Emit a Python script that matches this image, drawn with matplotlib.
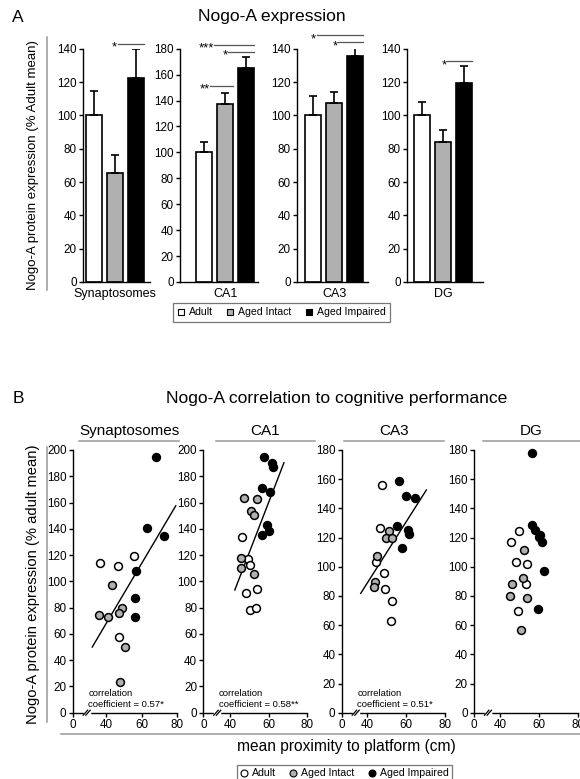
import numpy as np
import matplotlib.pyplot as plt
from matplotlib.lines import Line2D

plt.rcParams['font.family'] = ['Liberation Sans', 'DejaVu Sans']

W, H = 580, 779

regions = ['Synaptosomes', 'CA1', 'CA3', 'DG']
groups = ['Adult', 'Aged Intact', 'Aged Impaired']
group_colors = ['white', '#b0b0b0', 'black']

# --- panel A: bar means and upward SEM (% adult mean)
adult_mean = [100, 100, 100, 100]
intact_mean = [65.3, 137.0, 107.4, 83.8]
impaired_mean = [122.3, 165.0, 135.8, 119.6]
adult_sem = [14.5, 8.2, 11.8, 8.0]
intact_sem = [10.7, 9.0, 6.6, 7.2]
impaired_sem = [17.7, 8.5, 5.6, 10.2]
bar_ymax = [140, 180, 140, 140]

# significance lines: (y, start, end, label), x in bar index units
sig_lines = [
    [(143, 1.12, 2.39, '*')],
    [(183, 0.48, 2.39, '***'), (177.5, 1.14, 2.39, '*'), (151, 0.29, 1.39, '**')],
    [(148, 0.17, 2.39, '*'), (144, 1.2, 2.39, '*')],
    [(132.6, 1.19, 2.39, '*')],
]

# --- panel B: mean proximity (cm) vs Nogo-A expression
syn_adult_x = [36.3, 46.3, 55.4, 46.8]
syn_adult_y = [113.7, 111.9, 119.1, 57.4]
syn_intact_x = [43.2, 35.6, 41.0, 48.9, 47.2, 50.2, 47.6]
syn_intact_y = [97.0, 74.4, 73.1, 79.5, 76.1, 50.2, 23.6]
syn_impaired_x = [67.8, 62.6, 72.5, 56.6, 55.8, 56.2]
syn_impaired_y = [194.9, 140.9, 134.3, 108.1, 87.1, 72.6]

ca1_adult_x = [46.2, 49.4, 50.3, 48.2, 54.0, 50.5, 53.6]
ca1_adult_y = [134.0, 117.0, 112.2, 90.9, 93.9, 78.0, 79.7]
ca1_intact_x = [47.0, 53.8, 51.0, 52.2, 45.8, 45.5, 52.2]
ca1_intact_y = [163.2, 162.7, 153.8, 150.7, 117.5, 109.9, 105.6]
ca1_impaired_x = [57.8, 61.9, 62.1, 56.4, 60.6, 59.4, 60.2, 56.6]
ca1_impaired_y = [194.9, 189.9, 186.8, 171.3, 168.3, 142.9, 138.6, 135.3]

ca3_adult_x = [47.7, 46.5, 44.3, 48.6, 49.1, 52.6, 52.2]
ca3_adult_y = [155.8, 126.4, 103.3, 95.9, 84.5, 76.5, 62.8]
ca3_intact_x = [51.2, 49.5, 52.6, 45.0, 44.1, 43.4]
ca3_intact_y = [124.5, 119.7, 119.7, 107.6, 89.4, 86.3]
ca3_impaired_x = [56.5, 59.8, 64.7, 55.3, 61.1, 61.3, 58.0]
ca3_impaired_y = [159.0, 148.5, 147.3, 127.9, 125.2, 122.4, 112.6]

dg_adult_x = [49.9, 45.7, 48.1, 53.9, 53.4, 49.1]
dg_adult_y = [124.5, 117.0, 103.3, 102.1, 88.4, 69.7]
dg_intact_x = [52.4, 51.7, 46.3, 45.2, 53.9, 50.7]
dg_intact_y = [111.7, 92.5, 88.4, 79.8, 78.6, 56.5]
dg_impaired_x = [56.5, 56.5, 57.9, 60.6, 59.9, 61.3, 62.7, 59.4]
dg_impaired_y = [178.2, 128.6, 125.2, 121.8, 120.2, 117.0, 97.3, 70.8]

scatter_data = [
    [(syn_adult_x, syn_adult_y), (syn_intact_x, syn_intact_y), (syn_impaired_x, syn_impaired_y)],
    [(ca1_adult_x, ca1_adult_y), (ca1_intact_x, ca1_intact_y), (ca1_impaired_x, ca1_impaired_y)],
    [(ca3_adult_x, ca3_adult_y), (ca3_intact_x, ca3_intact_y), (ca3_impaired_x, ca3_impaired_y)],
    [(dg_adult_x, dg_adult_y), (dg_intact_x, dg_intact_y), (dg_impaired_x, dg_impaired_y)],
]
fit_x = [[32, 79], [42.4, 68], [36.6, 70.4], None]
fit_y = [[50, 157.5], [93.4, 190.3], [81.8, 152.6], None]
corr_labels = ['0.57*', '0.58**', '0.51*', None]
scatter_ymax = [200, 200, 180, 180]
break_start = [21, 26, 26.8, 26.6]   # where the "0" label sits on the broken axis


fig = plt.figure(figsize=(W / 100, H / 100), dpi=100)


def px_axes(l, t, r, b):
    return fig.add_axes([l / W, 1 - b / H, (r - l) / W, (b - t) / H])


def fig_line(x0, y0, x1, y1, **kw):
    fig.add_artist(Line2D([x0 / W, x1 / W], [1 - y0 / H, 1 - y1 / H], **kw))


def style(ax):
    for s in ['top', 'right']:
        ax.spines[s].set_visible(False)
    for s in ['left', 'bottom']:
        ax.spines[s].set_linewidth(1.0)
    ax.tick_params(labelsize=8.4, length=3, width=1, pad=1.5)


# ---------------- A ----------------
fig.text(18 / W, 1 - 17 / H, 'A', fontsize=12.5, ha='center', va='center')
fig.text(272 / W, 1 - 17 / H, 'Nogo-A expression', fontsize=12.6, ha='center', va='center')
fig.text(33 / W, 1 - 165 / H, 'Nogo-A protein expression (% Adult mean)', rotation=90,
         fontsize=9.5, ha='center', va='center')
fig_line(47, 37, 47, 290, color='#999999', lw=1.1)

bar_boxes = [(83, 150, 3), (180, 258, 16), (297, 368, 8), (407, 483, 7)]
pitch = 21.0
bw = 0.78
for i, (l, r, gap) in enumerate(bar_boxes):
    ax = px_axes(l, 48.7, r, 282)
    style(ax)
    means = [adult_mean[i], intact_mean[i], impaired_mean[i]]
    sems = [adult_sem[i], intact_sem[i], impaired_sem[i]]
    xs = np.arange(3)
    ax.bar(xs, means, bw, color=group_colors, edgecolor='black', linewidth=1.2,
           yerr=[[0, 0, 0], sems], capsize=3,
           error_kw=dict(elinewidth=1.2, capthick=1.2, ecolor='black'), zorder=2)
    x0 = -bw / 2 - gap / pitch
    ax.set_xlim(x0, x0 + (r - l) / pitch)
    ax.set_ylim(0, bar_ymax[i])
    ax.set_yticks(np.arange(0, bar_ymax[i] + 1, 20))
    ax.set_xticks([1])
    ax.set_xticklabels([regions[i]], fontsize=9.0)
    ax.tick_params(axis='x', length=0, pad=4)
    for y, a, b, lab in sig_lines[i]:
        ax.plot([a, b], [y, y], color='#555555', lw=0.9, clip_on=False)
        ax.text(a - 0.03, y - 2.5, lab, ha='right', va='center', fontsize=9.5, clip_on=False)

sq = [Line2D([], [], ls='', marker='s', ms=5, mfc=c, mec='black', mew=0.8) for c in group_colors]
leg = fig.legend(sq, groups, loc='center', bbox_to_anchor=(281.5 / W, 1 - 312.5 / H), ncol=3,
                 fontsize=7.6, frameon=True, fancybox=False, edgecolor='#555555',
                 handlelength=0.7, handletextpad=0.4, columnspacing=1.3, borderpad=0.45)
leg.get_frame().set_linewidth(0.9)

# ---------------- B ----------------
fig.text(18 / W, 1 - 398 / H, 'B', fontsize=12.5, ha='center', va='center')
fig.text(336.5 / W, 1 - 398 / H, 'Nogo-A correlation to cognitive performance', fontsize=12.6,
         ha='center', va='center')
fig.text(33 / W, 1 - 584 / H, 'Nogo-A protein expression (% adult mean)', rotation=90,
         fontsize=10.6, ha='center', va='center')
fig_line(47, 447, 47, 722, color='#999999', lw=1.1)
fig_line(61, 734, 580, 734, color='#999999', lw=1.1)
fig.text(346 / W, 1 - 747 / H, 'mean proximity to platform (cm)', fontsize=11.2,
         ha='center', va='center')

title_lines = [(79, 179), (216, 315), (344, 444), (483, 580)]
sc_boxes = [(72.7, 177.5), (203.3, 307), (341.7, 445), (474, 578)]
for i, (l, r) in enumerate(sc_boxes):
    tl, tr = title_lines[i]
    fig_line(tl, 441, tr, 441, color='#999999', lw=1.1)
    fig.text((tl + tr) / 2 / W, 1 - 431 / H, regions[i], fontsize=11, ha='center', va='center')

    ax = px_axes(l, 450, r, 712.7)
    style(ax)
    for (x, y), c in zip(scatter_data[i], group_colors):
        ax.scatter(x, y, s=32, c=c, edgecolors='black', linewidths=1.1, zorder=3, clip_on=False)
    if fit_x[i] is not None:
        ax.plot(fit_x[i], fit_y[i], color='black', lw=1.0, zorder=2)
    if corr_labels[i] is not None:
        ax.text(0.15, 0.015, 'correlation\ncoefficient = ' + corr_labels[i], transform=ax.transAxes,
                fontsize=6.8, ha='left', va='bottom', linespacing=1.3)
    ax.set_xlim(break_start[i], 80)
    ax.set_ylim(0, scatter_ymax[i])
    ax.set_yticks(np.arange(0, scatter_ymax[i] + 1, 20))
    ax.set_xticks([break_start[i], 40, 60, 80])
    ax.set_xticklabels(['0', '40', '60', '80'])

    # axis break marks
    wpx, hpx = r - l, 712.7 - 450
    bx = 14 / wpx
    ax.plot([bx - 2 / wpx, bx + 2 / wpx], [0, 0], color='white', lw=2.5,
            transform=ax.transAxes, clip_on=False, zorder=5)
    for d in (-1.3, 1.3):
        cx = bx + d / wpx
        ax.plot([cx - 2.2 / wpx, cx + 2.2 / wpx], [-2.5 / hpx, 2.5 / hpx], color='black', lw=0.9,
                transform=ax.transAxes, clip_on=False, zorder=6)

circ = [Line2D([], [], ls='', marker='o', ms=5, mfc=c, mec='black', mew=0.8) for c in group_colors]
leg2 = fig.legend(circ, groups, loc='upper center', bbox_to_anchor=(344.5 / W, 1 - 760 / H), ncol=3,
                  fontsize=7.6, frameon=True, fancybox=False, edgecolor='#555555',
                  handlelength=0.7, handletextpad=0.4, columnspacing=1.3, borderpad=0.3)
leg2.get_frame().set_linewidth(0.9)

fig.savefig('out.png', dpi=100)
